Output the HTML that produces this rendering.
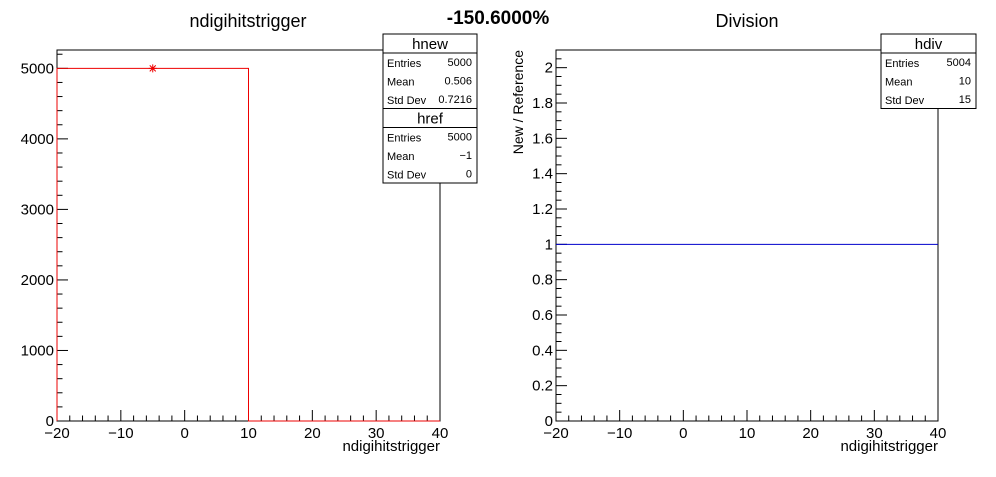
<!DOCTYPE html>
<html><head><meta charset="utf-8"><style>
body{margin:0;background:#fff;}
svg text{font-family:"Liberation Sans",sans-serif;}
</style></head><body>
<svg id="c" width="996" height="472" xmlns="http://www.w3.org/2000/svg">
<text x="498" y="24" font-size="19" font-weight="bold" text-anchor="middle">-150.6000%</text>
<text x="248" y="27" font-size="18" text-anchor="middle">ndigihitstrigger</text>
<text x="747" y="27" font-size="18" text-anchor="middle">Division</text>
<g id="L"></g>
<g id="R"></g>
</svg>
<script>
const binEdges=[-20,10,40];
const hnewValues=[5000,0];
const markerX=[-5];
const markerY=[5000];
const divEdges=[-20,40];
const divValues=[1];
const xTicks=[-20,-10,0,10,20,30,40];
const yTicksL=[0,1000,2000,3000,4000,5000];
const yTicksR=[0,0.2,0.4,0.6,0.8,1,1.2,1.4,1.6,1.8,2];
const NS="http://www.w3.org/2000/svg";
function mk(p,t,a,txt){const e=document.createElementNS(NS,t);for(const k in a)e.setAttribute(k,a[k]);if(txt!==undefined)e.textContent=txt;p.appendChild(e);return e;}
function fmt(v){return String(v).replace('-','\u2212');}
function panel(g,x0,x1,y0,y1,ymax,yMajor,yMinor,yTicks){
 const X=v=>x0+(v+20)/60*(x1-x0), Y=v=>y1-v/ymax*(y1-y0);
 const f=mk(g,'rect',{x:x0,y:y0,width:x1-x0,height:y1-y0,fill:'none',stroke:'#000','stroke-width':1});
 
 for(let v=-20;v<=40.001;v+=2){const maj=Math.abs(v%10)<1e-6;
  const t=mk(g,'line',{x1:X(v),x2:X(v),y1:y1,y2:y1-(maj?11:5.5),stroke:'#000'});
  }
 xTicks.forEach(v=>{const t=mk(g,'text',{x:X(v),y:y1+17,'font-size':15,'text-anchor':'middle'},fmt(v));
  });
 for(let v=0;v<=ymax+1e-9;v+=yMinor){const maj=Math.abs(v/yMajor-Math.round(v/yMajor))<1e-6;
  const t=mk(g,'line',{x1:x0,x2:x0+(maj?11:5.5),y1:Y(v),y2:Y(v),stroke:'#000'});
  }
 yTicks.forEach(v=>{const t=mk(g,'text',{x:x0-3,y:Y(v)+5,'font-size':15,'text-anchor':'end'},String(v));
  });
 const xt=mk(g,'text',{x:x1,y:y1+30,'font-size':15,'text-anchor':'end'},'ndigihitstrigger');
 
 return {X,Y};
}
function stats(g,x,y,w,title,rows,name){
 const h=19+rows.length*18.5;
 const b=mk(g,'g',{});
 mk(b,'rect',{x:x,y:y,width:w,height:h,fill:'#fff',stroke:'#000'});
 mk(b,'line',{x1:x,x2:x+w,y1:y+19,y2:y+19,stroke:'#000'});
 mk(b,'text',{x:x+w/2,y:y+15,'font-size':15,'text-anchor':'middle'},title);
 rows.forEach((r,i)=>{mk(b,'text',{x:x+4,y:y+33+i*18.5,'font-size':11},r[0]);
  mk(b,'text',{x:x+w-5,y:y+32+i*18.5,'font-size':11,'text-anchor':'end'},r[1]);});
 return h;
}
const L=document.getElementById('L'),R=document.getElementById('R');
const a=panel(L,57,440,50,421,5260,1000,200,yTicksL);
let d='M'+a.X(binEdges[0])+','+a.Y(0);
hnewValues.forEach((v,i)=>{d+=' L'+a.X(binEdges[i])+','+a.Y(v)+' L'+a.X(binEdges[i+1])+','+a.Y(v);});
d+=' L'+a.X(binEdges[binEdges.length-1])+','+a.Y(0);
const p=mk(L,'path',{d:d,fill:'none',stroke:'#e00','stroke-width':1});

markerX.forEach((mx,i)=>{const cx=a.X(mx),cy=a.Y(markerY[i]);const m=mk(L,'path',{d:`M${cx-4},${cy}H${cx+4}M${cx},${cy-4}V${cy+4}M${cx-3},${cy-3}L${cx+3},${cy+3}M${cx-3},${cy+3}L${cx+3},${cy-3}`,stroke:'#e00'});
 });
const h1=stats(L,383,34,94,'hnew',[['Entries','5000'],['Mean','0.506'],['Std Dev','0.7216']],'hnew-stats-box');
stats(L,383,34+h1,94,'href',[['Entries','5000'],['Mean','\u22121'],['Std Dev','0']],'href-stats-box');
const b=panel(R,556,938,50,421,2.1,0.2,0.05,yTicksR);
divValues.forEach((v,i)=>{const l=mk(R,'line',{x1:b.X(divEdges[i]),x2:b.X(divEdges[i+1]),y1:b.Y(v),y2:b.Y(v),stroke:'#00c'});
 });
const yt=mk(R,'text',{x:0,y:0,'font-size':14,'text-anchor':'end',transform:'translate(523,50) rotate(-90)'},'New / Reference');

stats(R,881,34,95,'hdiv',[['Entries','5004'],['Mean','10'],['Std Dev','15']],'hdiv-stats-box');
</script>
</body></html>
